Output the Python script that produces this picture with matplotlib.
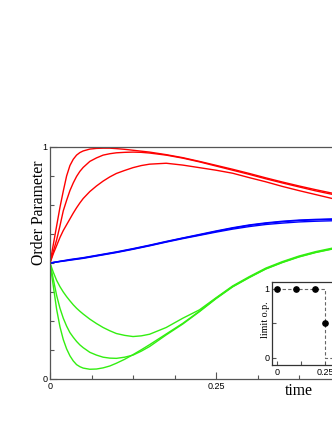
import matplotlib
matplotlib.use("Agg")
import matplotlib.pyplot as plt
from matplotlib.ticker import MultipleLocator, FixedLocator

# time grid shared by all curves
t = [0, 0.005, 0.01, 0.015, 0.02, 0.025, 0.03, 0.035, 0.04, 0.045, 0.05, 0.06, 0.07, 0.08,
     0.09, 0.1, 0.1125, 0.125, 0.1375, 0.15, 0.175, 0.2, 0.225, 0.25, 0.275, 0.3, 0.325,
     0.35, 0.375, 0.4, 0.425, 0.45]

red1 = [0.5, 0.58, 0.66, 0.74, 0.81, 0.875, 0.92, 0.947, 0.965, 0.976, 0.983, 0.991, 0.994, 0.995,
        0.995, 0.993, 0.99, 0.986, 0.982, 0.978, 0.967, 0.954, 0.938, 0.921, 0.904, 0.886, 0.867,
        0.849, 0.832, 0.816, 0.801, 0.787]
red2 = [0.5, 0.55, 0.6, 0.66, 0.725, 0.77, 0.812, 0.845, 0.873, 0.895, 0.912, 0.938, 0.953, 0.965,
        0.971, 0.975, 0.977, 0.978, 0.977, 0.974, 0.965, 0.952, 0.936, 0.918, 0.9, 0.882, 0.863,
        0.845, 0.828, 0.811, 0.796, 0.782]
red3 = [0.5, 0.54, 0.575, 0.61, 0.64, 0.665, 0.69, 0.715, 0.738, 0.759, 0.778, 0.808, 0.832, 0.853,
        0.871, 0.886, 0.899, 0.911, 0.92, 0.926, 0.93, 0.922, 0.911, 0.9, 0.887, 0.868, 0.85,
        0.83, 0.812, 0.795, 0.778, 0.762]

blue1 = [0.5, 0.5025, 0.505, 0.5075, 0.51, 0.5125, 0.515, 0.517, 0.519, 0.521, 0.523, 0.528, 0.533,
         0.538, 0.543, 0.548, 0.555, 0.562, 0.5695, 0.577, 0.593, 0.608, 0.623, 0.638, 0.652, 0.664,
         0.673, 0.68, 0.685, 0.688, 0.69, 0.691]
blue2 = [0.5, 0.502, 0.504, 0.506, 0.508, 0.51, 0.512, 0.514, 0.516, 0.518, 0.52, 0.525, 0.53,
         0.535, 0.54, 0.545, 0.552, 0.559, 0.5665, 0.574, 0.59, 0.605, 0.619, 0.633, 0.646, 0.657,
         0.666, 0.672, 0.677, 0.68, 0.682, 0.683]
blue3 = [0.5, 0.502, 0.5045, 0.507, 0.509, 0.511, 0.5135, 0.5155, 0.5175, 0.5195, 0.5215, 0.5265, 0.5315,
         0.5365, 0.5415, 0.5465, 0.5535, 0.5605, 0.568, 0.5755, 0.5915, 0.607, 0.621, 0.636, 0.65, 0.662,
         0.671, 0.678, 0.683, 0.686, 0.688, 0.689]

green1 = [0.5, 0.4, 0.3, 0.225, 0.17, 0.13, 0.1, 0.078, 0.062, 0.053, 0.047, 0.042, 0.043, 0.048,
          0.056, 0.068, 0.085, 0.105, 0.126, 0.148, 0.194, 0.24, 0.292, 0.348, 0.398, 0.438, 0.475,
          0.503, 0.527, 0.546, 0.561, 0.574]
green2 = [0.5, 0.43, 0.36, 0.305, 0.262, 0.228, 0.2, 0.18, 0.162, 0.147, 0.135, 0.115, 0.103, 0.094,
          0.09, 0.089, 0.094, 0.103, 0.12, 0.14, 0.19, 0.237, 0.29, 0.346, 0.397, 0.437, 0.474,
          0.502, 0.526, 0.545, 0.56, 0.573]
green3 = [0.5, 0.46, 0.425, 0.398, 0.375, 0.355, 0.337, 0.32, 0.305, 0.292, 0.28, 0.258, 0.239, 0.222,
          0.208, 0.196, 0.188, 0.183, 0.186, 0.193, 0.222, 0.262, 0.298, 0.35, 0.401, 0.441, 0.478,
          0.506, 0.53, 0.549, 0.564, 0.577]

# inset: limit order parameter
lim_x = [0, 0.1, 0.2, 0.25]
lim_y = [1, 1, 1, 0.5]
step_x = [-0.03, 0.25, 0.25, 0.4]
step_y = [1, 1, 0, 0]

sans = "Liberation Sans"
serif = "Liberation Serif"
spine_col = "#555555"

fig = plt.figure(figsize=(3.32, 4.30), dpi=100)

# main axes, running past the right edge of the picture
ax = fig.add_axes([50 / 332, 51 / 430, 332 / 332, 232 / 430])
for y in (red1, red2, red3):
    ax.plot(t, y, color="#ff0000", lw=1.0, solid_joinstyle="round")
for y in (blue1, blue2, blue3):
    ax.plot(t, y, color="#0000ff", lw=1.0, solid_joinstyle="round")
for y in (green1, green2, green3):
    ax.plot(t, y, color="#33ee11", lw=1.0, solid_joinstyle="round")

ax.set_xlim(0, 0.5)
ax.set_ylim(0, 1)
ax.xaxis.set_major_locator(FixedLocator([0, 0.25]))
ax.xaxis.set_minor_locator(MultipleLocator(0.0625))
ax.yaxis.set_major_locator(FixedLocator([0, 1]))
ax.yaxis.set_minor_locator(MultipleLocator(0.125))
ax.set_xticklabels(["0", "0.25"])
ax.set_yticklabels(["0", "1"])
ax.tick_params(which="both", direction="in", color=spine_col, width=0.8,
               labelsize=6.5, pad=2)
ax.tick_params(which="major", length=5)
ax.tick_params(which="minor", length=3)
for lab in ax.get_xticklabels() + ax.get_yticklabels():
    lab.set_family(sans)
for s in ax.spines.values():
    s.set_color(spine_col)
    s.set_linewidth(0.9)

fig.text(39 / 332, 1 - 213 / 430, "Order Parameter", rotation=90, ha="center",
         va="center", family=serif, fontsize=11.3)
fig.text(299 / 332, 1 - 391 / 430, "time", ha="center", va="center",
         family=serif, fontsize=11.3)

# inset
ins = fig.add_axes([272.3 / 332, 65 / 430, 75 / 332, 83.3 / 430])
ins.set_facecolor("white")
ins.plot(step_x, step_y, color="#666666", lw=0.8, ls=(0, (3, 2)))
ins.plot(lim_x, lim_y, "o", color="black", ms=3.8)
ins.set_xlim(-0.023, -0.023 + 75 / 193.2)
ins.set_ylim(-0.106, 1.106)
ins.xaxis.set_major_locator(FixedLocator([0, 0.25]))
ins.xaxis.set_minor_locator(FixedLocator([0.125]))
ins.yaxis.set_major_locator(FixedLocator([0, 1]))
ins.yaxis.set_minor_locator(FixedLocator([0.5]))
ins.set_xticklabels(["0", "0.25"])
ins.set_yticklabels(["0", "1"])
ins.tick_params(which="both", direction="in", color=spine_col, width=0.8,
                labelsize=6.5, pad=2)
ins.tick_params(which="major", length=3)
ins.tick_params(which="minor", length=3)
for lab in ins.get_xticklabels() + ins.get_yticklabels():
    lab.set_family(sans)
for s in ins.spines.values():
    s.set_color("#333333")
    s.set_linewidth(0.9)
fig.text(265 / 332, 1 - 320 / 430, "limit o.p.", rotation=90, ha="center",
         va="center", family=serif, fontsize=7.2)

fig.savefig("out.png", dpi=100)
